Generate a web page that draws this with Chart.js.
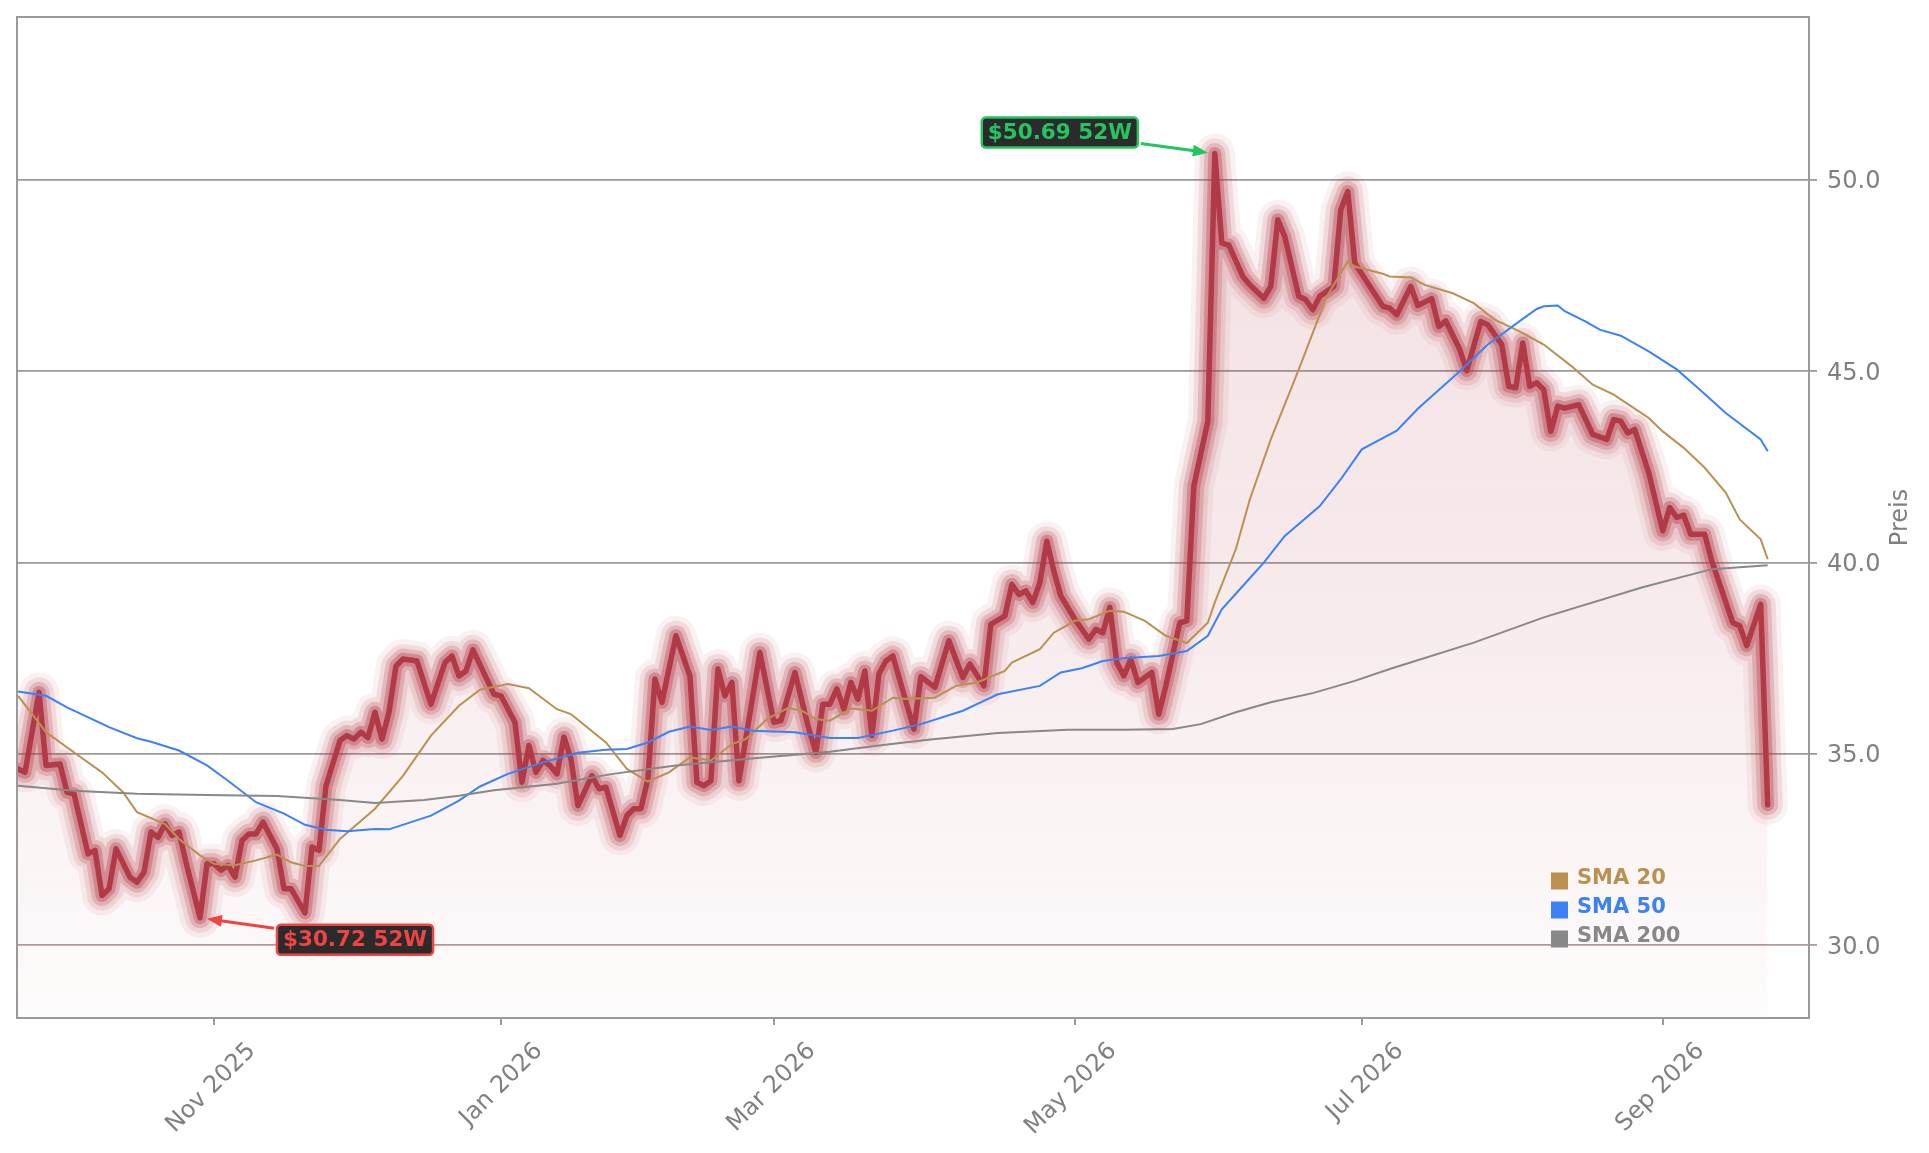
<!DOCTYPE html>
<html>
<head>
<meta charset="utf-8">
<script src="https://cdn.jsdelivr.net/npm/chart.js@4.4.1/dist/chart.umd.min.js"></script>
<style>
  html, body { margin: 0; padding: 0; background: #fff; }
  canvas { display: block; }
</style>
</head>
<body>
<canvas id="kurs" width="1929" height="1153"></canvas>
<script>
// x = Handelstag im 52W-Fenster (0 = erster Tag)
const priceDay = [
  0, 1, 3, 4, 6, 7, 8, 10, 11, 12,
  13, 14, 16, 17, 18, 19, 20, 21, 22, 23,
  24, 26, 27, 28, 29, 30, 31, 32, 33, 34,
  35, 37, 38, 39, 41, 42, 43, 44, 46, 47,
  48, 49, 50, 51, 52, 53, 54, 55, 57, 59,
  61, 62, 63, 64, 65, 68, 69, 71, 72, 73,
  74, 75, 76, 77, 78, 79, 80, 82, 83, 84,
  86, 87, 88, 89, 90, 91, 92, 94, 96, 97,
  98, 99, 100, 101, 102, 103, 106, 108, 109, 111,
  113, 114, 115, 116, 117, 118, 119, 120, 121, 122,
  123, 124, 125, 128, 129, 131, 133, 135, 136, 138,
  139, 141, 142, 143, 144, 145, 146, 147, 148, 149,
  151, 153, 154, 155, 156, 157, 158, 159, 160, 162,
  163, 164, 166, 167, 168, 170, 171, 172, 173, 175,
  176, 178, 179, 180, 181, 183, 184, 185, 186, 188,
  189, 190, 191, 193, 195, 196, 197, 199, 200, 202,
  203, 204, 206, 207, 209, 210, 212, 213, 214, 215,
  216, 217, 218, 219, 220, 221, 223, 225, 227, 228,
  229, 230, 231, 233, 235, 236, 237, 238, 239, 241,
  242, 245, 246, 247, 249, 250
];
const priceClose = [
  34.61, 34.52, 36.61, 34.70, 34.74, 34.00, 33.96, 32.39, 32.48, 31.30,
  31.48, 32.52, 31.78, 31.65, 31.91, 32.96, 32.82, 33.17, 32.87, 32.96,
  32.17, 30.72, 32.13, 32.13, 31.96, 32.09, 31.78, 32.74, 32.91, 32.91,
  33.22, 32.52, 31.48, 31.48, 30.85, 32.57, 32.48, 34.17, 35.35, 35.48,
  35.39, 35.57, 35.43, 36.09, 35.39, 36.09, 37.30, 37.48, 37.43, 36.30,
  37.39, 37.56, 37.04, 37.17, 37.72, 36.56, 36.52, 35.83, 34.26, 35.22,
  34.52, 34.83, 34.70, 34.48, 35.44, 34.87, 33.65, 34.43, 34.09, 34.13,
  32.87, 33.39, 33.57, 33.57, 34.35, 36.96, 36.35, 38.09, 37.04, 34.26,
  34.17, 34.30, 37.22, 36.52, 36.87, 34.30, 37.65, 35.83, 35.87, 37.13,
  35.65, 35.04, 36.30, 36.30, 36.70, 36.17, 36.87, 36.43, 37.17, 35.48,
  37.09, 37.43, 37.56, 35.65, 37.02, 36.74, 37.96, 37.00, 37.35, 36.78,
  38.39, 38.61, 39.43, 39.17, 39.26, 38.96, 39.48, 40.56, 39.78, 39.13,
  38.52, 38.00, 38.26, 38.17, 38.83, 37.39, 37.04, 37.48, 36.87, 37.13,
  36.04, 36.78, 38.43, 38.48, 42.00, 43.70, 50.69, 48.35, 48.30, 47.48,
  47.26, 46.91, 47.22, 48.96, 48.52, 46.96, 46.87, 46.61, 46.96, 47.22,
  49.22, 49.70, 47.83, 47.26, 46.70, 46.65, 46.48, 47.22, 46.72, 46.90,
  46.17, 46.32, 45.57, 45.02, 46.30, 46.22, 45.70, 44.61, 44.57, 45.74,
  44.61, 44.70, 44.52, 43.43, 44.09, 44.04, 44.13, 43.35, 43.22, 43.74,
  43.70, 43.39, 43.48, 42.35, 40.83, 41.44, 41.18, 41.24, 40.74, 40.74,
  40.05, 38.43, 38.35, 37.83, 38.91, 33.67
];

const sma20Day = [0, 4, 8, 12, 15, 17, 21, 23, 26, 28, 31, 34, 37, 39, 41, 43, 46, 51, 55, 59,
  63, 66, 70, 73, 77, 79, 84, 87, 90, 93, 96, 99, 102, 104, 107, 110, 112, 114, 116, 119,
  122, 125, 127, 131, 134, 137, 141, 142, 146, 148, 151, 153, 156, 158, 161, 164, 167, 170, 171, 174,
  176, 179, 183, 187, 190, 191, 195, 196, 199, 201, 205, 208, 211, 214, 215, 218, 222, 225, 228, 233,
  235, 238, 241, 244, 246, 249, 250];
const sma20 = [36.52, 35.57, 35.04, 34.52, 34.00, 33.48, 33.17, 32.78, 32.35, 32.13, 32.09, 32.22, 32.37, 32.17, 32.07, 32.07, 32.78, 33.57, 34.43, 35.48,
  36.26, 36.68, 36.83, 36.72, 36.17, 36.04, 35.30, 34.61, 34.28, 34.52, 34.91, 34.83, 35.26, 35.39, 35.91, 36.20, 36.13, 35.91, 35.87, 36.19,
  36.13, 36.47, 36.44, 36.47, 36.78, 36.87, 37.17, 37.39, 37.74, 38.17, 38.48, 38.52, 38.74, 38.72, 38.48, 38.09, 37.90, 38.43, 38.96, 40.35,
  41.65, 43.22, 45.05, 46.96, 47.87, 47.74, 47.55, 47.48, 47.45, 47.26, 47.04, 46.78, 46.35, 46.09, 46.00, 45.70, 45.13, 44.65, 44.39, 43.78,
  43.43, 43.00, 42.48, 41.83, 41.13, 40.61, 40.09];

const sma50Day = [0, 4, 7, 13, 17, 19, 23, 27, 30, 34, 38, 41, 44, 47, 51, 53, 59, 63, 66, 70,
  75, 80, 84, 87, 90, 93, 96, 99, 102, 105, 111, 116, 120, 125, 129, 135, 138, 140, 146, 149,
  152, 155, 158, 163, 167, 170, 172, 175, 178, 181, 186, 189, 192, 197, 200, 206, 210, 215, 217, 218,
  220, 221, 224, 226, 229, 233, 237, 240, 244, 249, 250];
const sma50 = [36.63, 36.52, 36.22, 35.70, 35.41, 35.32, 35.09, 34.70, 34.30, 33.74, 33.44, 33.15, 33.02, 32.98, 33.04, 33.03, 33.39, 33.78, 34.15, 34.48,
  34.78, 35.03, 35.11, 35.13, 35.30, 35.58, 35.72, 35.63, 35.72, 35.61, 35.57, 35.42, 35.42, 35.61, 35.78, 36.13, 36.39, 36.56, 36.78, 37.13,
  37.24, 37.43, 37.50, 37.56, 37.69, 38.09, 38.78, 39.39, 40.00, 40.70, 41.48, 42.18, 42.96, 43.45, 44.02, 45.00, 45.70, 46.37, 46.63, 46.70,
  46.72, 46.57, 46.30, 46.09, 45.93, 45.52, 45.05, 44.57, 43.91, 43.22, 42.91];

const sma200Day = [0, 8, 17, 27, 37, 46, 51, 58, 63, 68, 77, 85, 94, 104, 116, 123, 130, 140, 150, 158,
  165, 169, 174, 179, 185, 191, 196, 208, 218, 232, 242, 250];
const sma200 = [34.17, 34.04, 33.96, 33.93, 33.90, 33.80, 33.72, 33.80, 33.91, 34.05, 34.22, 34.48, 34.70, 34.87, 35.06, 35.22, 35.37, 35.55, 35.63, 35.63,
  35.65, 35.78, 36.09, 36.35, 36.59, 36.91, 37.22, 37.91, 38.57, 39.35, 39.83, 39.93];

// erster Handelstag des Monats
const tickDay = [28, 69, 108, 151, 192, 235];
const tickLabels = ['Nov 2025', 'Jan 2026', 'Mar 2026', 'May 2026', 'Jul 2026', 'Sep 2026'];
const yTicks = [30, 35, 40, 45, 50];

const FONT = "'DejaVu Sans', sans-serif";
const GREY = '#808080';
const FRAME = '#9a9a9a';
const RED = '178,58,70';
const C20 = '#ba9150', C50 = '#3b82f6', C200 = '#888888';

const pts = (xs, ys) => xs.map((x, i) => ({ x, y: ys[i] }));
const price = pts(priceDay, priceClose);

const fillGradient = (c) => {
  const { chartArea, ctx } = c.chart;
  if (!chartArea) return 'transparent';
  const g = ctx.createLinearGradient(0, chartArea.top, 0, chartArea.bottom);
  g.addColorStop(0, `rgba(${RED},0.15)`);
  g.addColorStop(0.25, `rgba(${RED},0.14)`);
  g.addColorStop(0.55, `rgba(${RED},0.11)`);
  g.addColorStop(0.8, `rgba(${RED},0.06)`);
  g.addColorStop(1, `rgba(${RED},0.02)`);
  return g;
};

const glow = [[40, 0.07], [30, 0.13], [21, 0.22], [13, 0.35]];

const datasets = [
  { data: price, borderWidth: 0, fill: 'start', backgroundColor: fillGradient, order: 20 },
  ...glow.map(([w, a], i) => ({
    data: price, borderColor: `rgba(${RED},${a})`, borderWidth: w, fill: false, order: 15 - i,
    borderJoinStyle: 'round', borderCapStyle: 'round'
  })),
  { data: price, borderColor: `rgb(${RED})`, borderWidth: 5.5, fill: false, order: 5,
    borderJoinStyle: 'round', borderCapStyle: 'round' },
  { label: 'SMA 20', data: pts(sma20Day, sma20), borderColor: C20, borderWidth: 2, fill: false, order: 3, legend: true },
  { label: 'SMA 50', data: pts(sma50Day, sma50), borderColor: C50, borderWidth: 2, fill: false, order: 2, legend: true },
  { label: 'SMA 200', data: pts(sma200Day, sma200), borderColor: C200, borderWidth: 2, fill: false, order: 1, legend: true }
];

// 52W-Hoch / -Tief Marker: Abstand der Box zum Punkt
const tagOffset = { high: [-155, -21], low: [155, 22] };

function drawTag(chart, day, val, color, off) {
  const { ctx, scales: { x, y } } = chart;
  const px = x.getPixelForValue(day), py = y.getPixelForValue(val);
  const text = '$' + val.toFixed(2) + ' 52W';
  ctx.save();
  ctx.font = `bold 21.5px ${FONT}`;
  const bw = ctx.measureText(text).width + 12, bh = 30;
  const cx = px + off[0], cy = py + off[1];
  const vx = px - cx, vy = py - cy, len = Math.hypot(vx, vy);
  const ux = vx / len, uy = vy / len;
  const tOut = Math.min(bw / 2 / Math.abs(ux), bh / 2 / Math.abs(uy)) + 3;
  const sx = cx + ux * tOut, sy = cy + uy * tOut;
  const ex = px - ux * 7, ey = py - uy * 7;
  const hl = 15, hw = 6;
  ctx.strokeStyle = color; ctx.fillStyle = color; ctx.lineWidth = 3;
  ctx.beginPath(); ctx.moveTo(sx, sy); ctx.lineTo(ex - ux * hl * 0.8, ey - uy * hl * 0.8); ctx.stroke();
  ctx.beginPath();
  ctx.moveTo(ex, ey);
  ctx.lineTo(ex - ux * hl - uy * hw, ey - uy * hl + ux * hw);
  ctx.lineTo(ex - ux * hl + uy * hw, ey - uy * hl - ux * hw);
  ctx.closePath(); ctx.fill();
  ctx.beginPath();
  ctx.roundRect(cx - bw / 2, cy - bh / 2, bw, bh, 4);
  ctx.fillStyle = '#2b2b2b'; ctx.fill();
  ctx.lineWidth = 2.5; ctx.strokeStyle = color; ctx.stroke();
  ctx.fillStyle = color; ctx.textAlign = 'center'; ctx.textBaseline = 'middle';
  ctx.fillText(text, cx, cy + 1);
  ctx.restore();
}

const extras = {
  id: 'extras',
  afterDatasetsDraw(chart) {
    const { ctx, chartArea: a } = chart;
    ctx.save();
    ctx.strokeStyle = FRAME; ctx.lineWidth = 2;
    ctx.strokeRect(a.left, a.top, a.right - a.left, a.bottom - a.top);

    // Legende unten rechts
    ctx.font = `bold 21px ${FONT}`;
    ctx.textBaseline = 'middle'; ctx.textAlign = 'left';
    chart.data.datasets.filter(d => d.legend).forEach((d, i) => {
      const yy = a.bottom - 137 + i * 29;
      ctx.fillStyle = d.borderColor;
      ctx.fillRect(a.right - 258, yy - 8.5, 17, 17);
      ctx.fillText(d.label, a.right - 232, yy - 2);
    });

    // Achsentitel rechts, von unten nach oben
    ctx.fillStyle = GREY; ctx.font = `24px ${FONT}`; ctx.textAlign = 'center';
    ctx.translate(chart.width - 28, (a.top + a.bottom) / 2);
    ctx.rotate(-Math.PI / 2);
    ctx.fillText('Preis', 0, 0);
    ctx.restore();

    const hi = Math.max(...priceClose), lo = Math.min(...priceClose);
    drawTag(chart, priceDay[priceClose.indexOf(hi)], hi, '#22c55e', tagOffset.high);
    drawTag(chart, priceDay[priceClose.indexOf(lo)], lo, '#ef4444', tagOffset.low);
  }
};

new Chart(document.getElementById('kurs'), {
  type: 'line',
  data: { datasets },
  plugins: [extras],
  options: {
    responsive: false,
    devicePixelRatio: 1,
    animation: false,
    events: [],
    layout: { padding: { left: 17, top: 17, right: 0, bottom: 0 } },
    elements: { point: { radius: 0 }, line: { tension: 0 } },
    plugins: { legend: { display: false }, tooltip: { enabled: false } },
    scales: {
      x: {
        type: 'linear', min: -0.15, max: 255.9,
        afterBuildTicks: (s) => { s.ticks = tickDay.map(v => ({ value: v })); },
        afterFit: (s) => { s.height = 135; s.paddingLeft = 0; s.paddingRight = 0; },
        grid: { drawOnChartArea: false, drawTicks: true, tickLength: 7, color: FRAME, lineWidth: 2 },
        border: { display: false },
        ticks: {
          autoSkip: false, minRotation: 45, maxRotation: 45, labelOffset: 38, padding: 12,
          color: GREY, font: { family: FONT, size: 24 },
          callback: (v) => tickLabels[tickDay.indexOf(v)]
        }
      },
      y: {
        position: 'right', min: 28.1, max: 54.26,
        afterBuildTicks: (s) => { s.ticks = yTicks.map(v => ({ value: v })); },
        afterFit: (s) => { s.width = 120; s.paddingTop = 0; s.paddingBottom = 0; },
        grid: {
          color: (c) => (c.tick && c.tick.value === 30 ? '#b59a9a' : FRAME),
          lineWidth: 1.8, drawTicks: true, tickLength: 8
        },
        border: { display: false },
        ticks: { padding: 10, labelOffset: 2, color: GREY, font: { family: FONT, size: 24 }, callback: (v) => v.toFixed(1) }
      }
    }
  }
});
</script>
</body>
</html>
